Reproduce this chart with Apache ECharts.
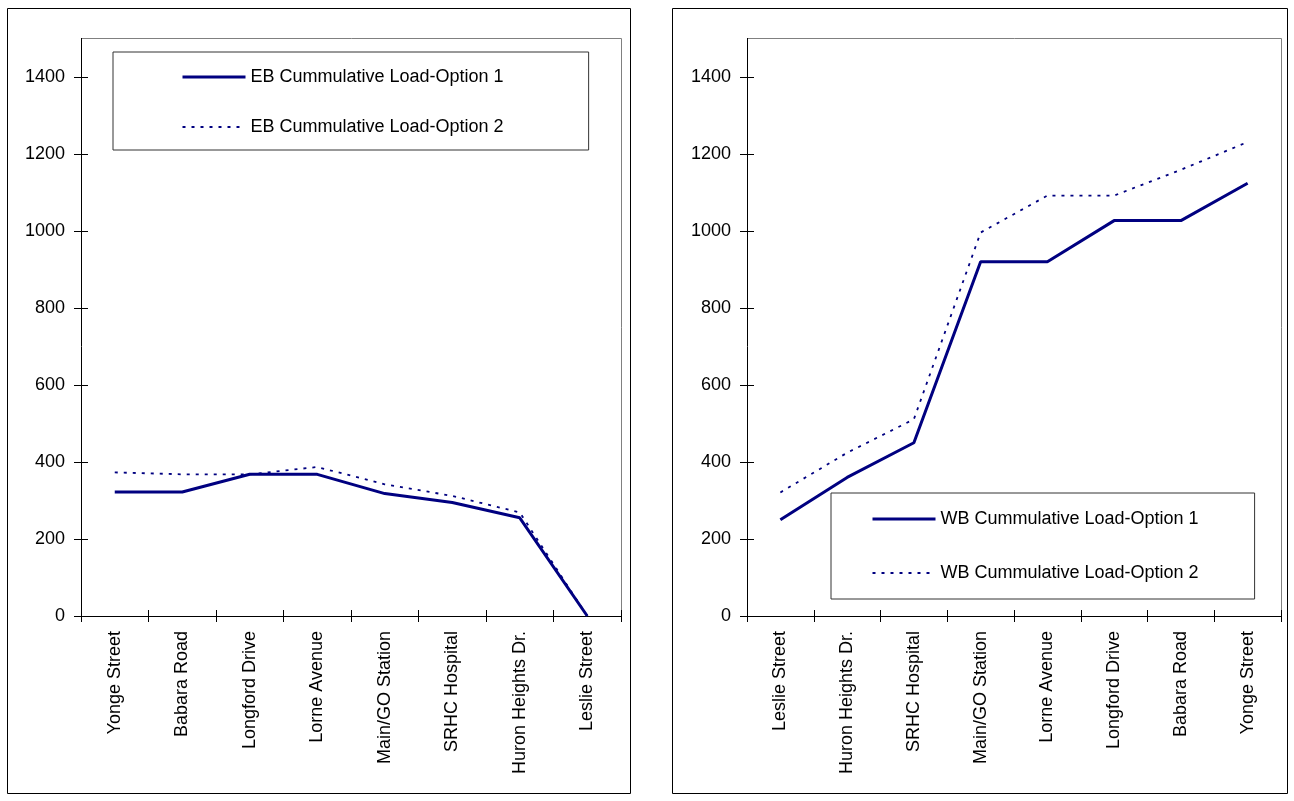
<!DOCTYPE html>
<html>
<head>
<meta charset="utf-8">
<script src="https://cdn.jsdelivr.net/npm/echarts@6/dist/echarts.min.js"></script>
<style>
html,body{margin:0;padding:0;background:#fff;}
#main{width:1294px;height:801px;}
</style>
</head>
<body>
<div id="main"></div>
<script>
const ebStops = ['Yonge Street','Babara Road','Longford Drive','Lorne Avenue','Main/GO Station','SRHC Hospital','Huron Heights Dr.','Leslie Street'];
const ebOption1 = [322, 322, 368, 368, 318, 295, 255, 0];
const ebOption2 = [373, 368, 368, 387, 342, 312, 269, 0];

const wbStops = ['Leslie Street','Huron Heights Dr.','SRHC Hospital','Main/GO Station','Lorne Avenue','Longford Drive','Babara Road','Yonge Street'];
const wbOption1 = [250, 360, 450, 920, 920, 1027, 1027, 1124];
const wbOption2 = [321, 424, 511, 996, 1092, 1092, 1159, 1231];

const yTicks = [0, 200, 400, 600, 800, 1000, 1200, 1400];

const seriesNames = ['EB Cummulative Load-Option 1','EB Cummulative Load-Option 2','WB Cummulative Load-Option 1','WB Cummulative Load-Option 2'];

const FONT = 'Liberation Sans, Arial, sans-serif';
const NAVY = '#000080';
const SOLID_W = 3, DOT_W = 1.8, DOT_PATTERN = [3,6];

const chart = echarts.init(document.getElementById('main'), null, {renderer:'canvas'});

function catAxis(grid, data, withLabels){
  return {
    type:'category', gridIndex:grid, data:data, boundaryGap:true, position:'bottom',
    axisLine:{show:withLabels, lineStyle:{color:'#000', width:1}},
    axisTick:{show:true, inside:!withLabels, length:6, alignWithLabel:false, lineStyle:{color:'#000'}},
    axisLabel:{show:withLabels, rotate:90, margin:15, color:'#000', fontFamily:FONT, fontSize:18, interval:0},
    splitLine:{show:false}
  };
}
function valAxis(grid, withLabels){
  return {
    type:'value', gridIndex:grid, position:'left', min:yTicks[0], max:yTicks[yTicks.length-1], interval:200,
    axisLine:{show:withLabels, lineStyle:{color:'#000', width:1}},
    axisTick:{show:true, inside:!withLabels, length:7, lineStyle:{color:'#000'}},
    axisLabel:{show:withLabels, margin:16, color:'#000', fontFamily:FONT, fontSize:18,
               formatter:function(v){return String(v);}},
    splitLine:{show:false}
  };
}

const legendCommon = {
  orient:'vertical', itemWidth:63, itemHeight:14,
  borderColor:'#333', borderWidth:1,
  itemStyle:{opacity:0},
  textStyle:{color:'#000', fontFamily:FONT, fontSize:18}
};
function legendData(a, b){
  return [
    {name:a, lineStyle:{width:SOLID_W, color:NAVY, type:'solid'}},
    {name:b, lineStyle:{width:DOT_W, color:NAVY, type:DOT_PATTERN}}
  ];
}

const option = {
  animation:false,
  backgroundColor:'#fff',
  grid:[
    {left:81, top:77, width:540, height:539},
    {left:747, top:77, width:534, height:539}
  ],
  xAxis:[catAxis(0, ebStops, true), catAxis(0, ebStops, false), catAxis(1, wbStops, true), catAxis(1, wbStops, false)],
  yAxis:[valAxis(0, true), valAxis(0, false), valAxis(1, true), valAxis(1, false)],
  legend:[
    Object.assign({}, legendCommon, {data:legendData(seriesNames[0], seriesNames[1]), left:113, top:52,
     padding:[16, 85, 14, 68], itemGap:32}),
    Object.assign({}, legendCommon, {data:legendData(seriesNames[2], seriesNames[3]), left:831, top:493,
     padding:[17, 56, 17, 40], itemGap:36})
  ],
  series:[
    {name:seriesNames[0], type:'line', xAxisIndex:0, yAxisIndex:0, data:ebOption1, symbol:'none', z:3,
     color:NAVY, lineStyle:{color:NAVY, width:SOLID_W}},
    {name:seriesNames[1], type:'line', xAxisIndex:0, yAxisIndex:0, data:ebOption2, symbol:'none', z:2,
     color:NAVY, lineStyle:{color:NAVY, width:DOT_W, type:DOT_PATTERN}},
    {name:seriesNames[2], type:'line', xAxisIndex:2, yAxisIndex:2, data:wbOption1, symbol:'none', z:3,
     color:NAVY, lineStyle:{color:NAVY, width:SOLID_W}},
    {name:seriesNames[3], type:'line', xAxisIndex:2, yAxisIndex:2, data:wbOption2, symbol:'none', z:2,
     color:NAVY, lineStyle:{color:NAVY, width:DOT_W, type:DOT_PATTERN}}
  ],
  graphic:[
    {type:'rect', shape:{x:7.5, y:8.5, width:623, height:785}, style:{fill:null, stroke:'#000', lineWidth:1}, z:-10},
    {type:'rect', shape:{x:672.5, y:8.5, width:615, height:785}, style:{fill:null, stroke:'#000', lineWidth:1}, z:-10},
    {type:'polyline', shape:{points:[[81,38.5],[621.5,38.5],[621.5,616]]}, style:{fill:null, stroke:'#808080', lineWidth:1}, z:-5},
    {type:'polyline', shape:{points:[[747,38.5],[1281.5,38.5],[1281.5,616]]}, style:{fill:null, stroke:'#808080', lineWidth:1}, z:-5},
    {type:'line', shape:{x1:81.5, y1:38, x2:81.5, y2:77}, style:{stroke:'#000', lineWidth:1}, z:-5},
    {type:'line', shape:{x1:747.5, y1:38, x2:747.5, y2:77}, style:{stroke:'#000', lineWidth:1}, z:-5}
  ]
};
chart.setOption(option);
</script>
</body>
</html>
